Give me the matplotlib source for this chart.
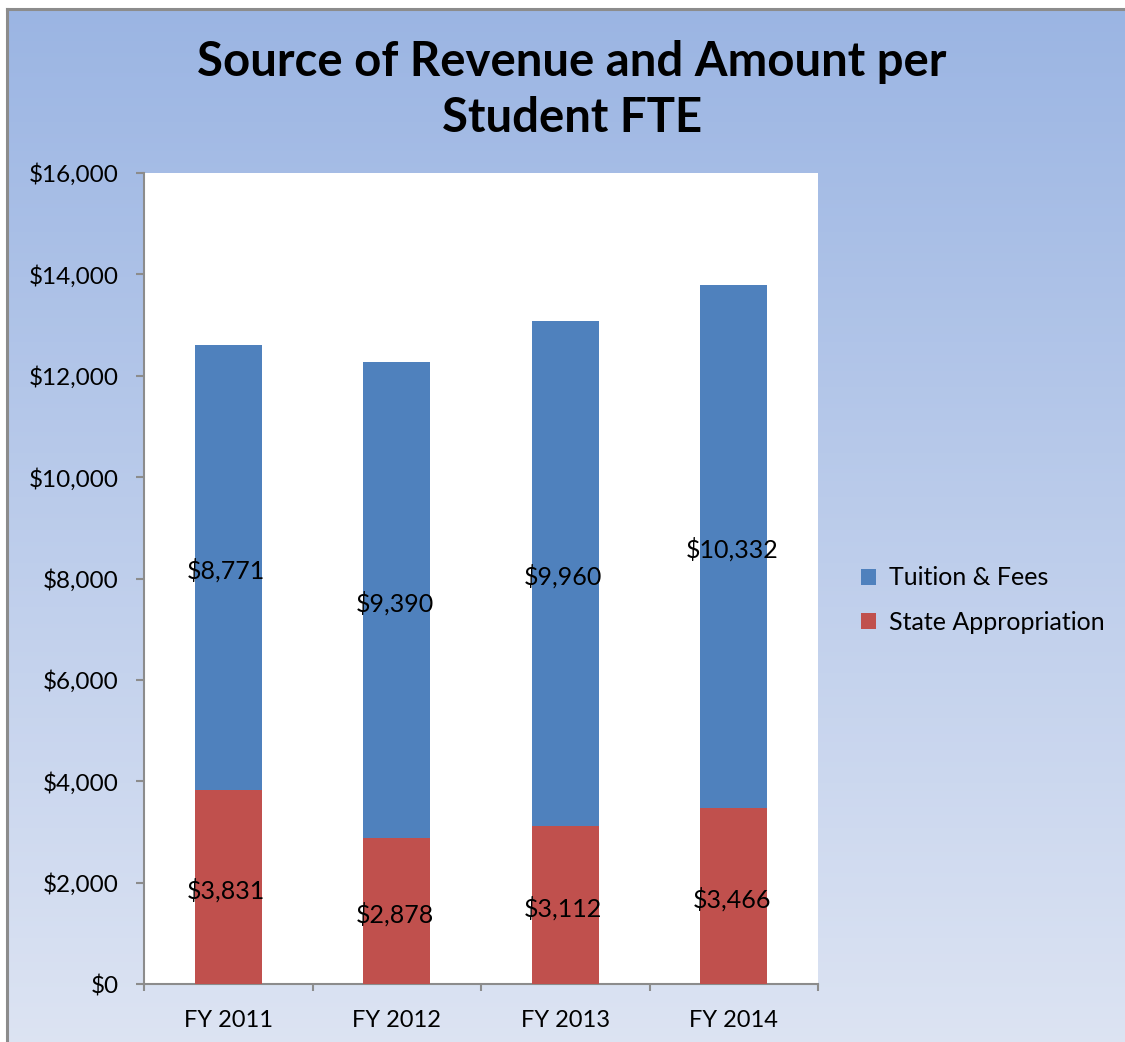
import numpy as np
import matplotlib
matplotlib.use("Agg")
import matplotlib.pyplot as plt
from matplotlib.ticker import FuncFormatter, FixedLocator
from matplotlib.lines import Line2D

categories = ["FY 2011", "FY 2012", "FY 2013", "FY 2014"]
state_appropriation = [3831, 2878, 3112, 3466]
tuition_fees = [8771, 9390, 9960, 10332]
yticks = [0, 2000, 4000, 6000, 8000, 10000, 12000, 14000, 16000]

plt.rcParams["font.family"] = ["Lato", "DejaVu Sans"]

W, H = 1125, 1042
fig = plt.figure(figsize=(W / 100, H / 100), dpi=100)
fig.patch.set_facecolor("white")

# Vertical gradient background of the chart area
bg = fig.add_axes([7 / W, -0.01, 1.02 - 7 / W, 1.01 - 9 / H], zorder=0)
top = np.array([155, 181, 227]) / 255
bot = np.array([221, 228, 243]) / 255
t = np.linspace(0, 1, 256)[:, None]
grad = top[None, :] * (1 - t) + bot[None, :] * t
bg.imshow(grad[:, None, :], aspect="auto", extent=[0, 1, 0, 1])
bg.set_axis_off()

# Outer frame (top and left edges)
frame_c = "#8c8c8c"
fig.add_artist(Line2D([7 / W, 1.01], [1 - 9 / H, 1 - 9 / H], color=frame_c, lw=2.2, transform=fig.transFigure, zorder=5))
fig.add_artist(Line2D([7 / W, 7 / W], [-0.01, 1 - 9 / H], color=frame_c, lw=2.2, transform=fig.transFigure, zorder=5))

# Plot area
x0, x1, y_top, y_bot = 144, 818, 173, 984
ax = fig.add_axes([x0 / W, 1 - y_bot / H, (x1 - x0) / W, (y_bot - y_top) / H], zorder=2)
ax.set_facecolor("white")

x = np.arange(len(categories))
blue = "#4f81bd"
red = "#c0504d"
b1 = ax.bar(x, state_appropriation, width=0.4, color=red, label="State Appropriation", zorder=3)
b2 = ax.bar(x, tuition_fees, width=0.4, bottom=state_appropriation, color=blue, label="Tuition & Fees", zorder=3)

for xi, s, tf in zip(x, state_appropriation, tuition_fees):
    for yv, val in ((s / 2, s), (s + tf / 2, tf)):
        ax.annotate(f"${val:,}", xy=(xi, yv), xytext=(-2, -3), textcoords="offset pixels",
                    ha="center", va="center", fontsize=18, color="black", zorder=4)

ax.set_xlim(-0.5, len(categories) - 0.5)
ax.set_ylim(0, 16000)
ax.set_yticks(yticks)
ax.yaxis.set_major_formatter(FuncFormatter(lambda v, p: f"${int(v):,}"))
ax.set_xticks(x)
ax.set_xticklabels(categories)
ax.xaxis.set_minor_locator(FixedLocator(np.arange(-0.5, len(categories), 1.0)))
ax.tick_params(axis="x", which="major", length=0, pad=19, labelsize=17)
ax.tick_params(axis="x", which="minor", length=5, width=1.5, color="#8c8c8c")
ax.tick_params(axis="y", length=6, width=1.5, color="#8c8c8c", labelsize=17.5, pad=12)

for side in ["top", "right"]:
    ax.spines[side].set_visible(False)
for side in ["left", "bottom"]:
    ax.spines[side].set_color("#8c8c8c")
    ax.spines[side].set_linewidth(1.5)

handles = [b2, b1]
fig.legend(handles, ["Tuition & Fees", "State Appropriation"], loc="center left",
           bbox_to_anchor=(838 / W, 1 - 600 / H), frameon=False, fontsize=18,
           handlelength=0.6, handleheight=0.6, handletextpad=0.55, labelspacing=0.85)

fig.text(572 / W, 1 - 62 / H, "Source of Revenue and Amount per", ha="center", va="center",
         fontsize=34, fontweight="bold", zorder=6)
fig.text(572 / W, 1 - 118 / H, "Student FTE", ha="center", va="center",
         fontsize=34, fontweight="bold", zorder=6)

fig.savefig("out.png", dpi=100)
